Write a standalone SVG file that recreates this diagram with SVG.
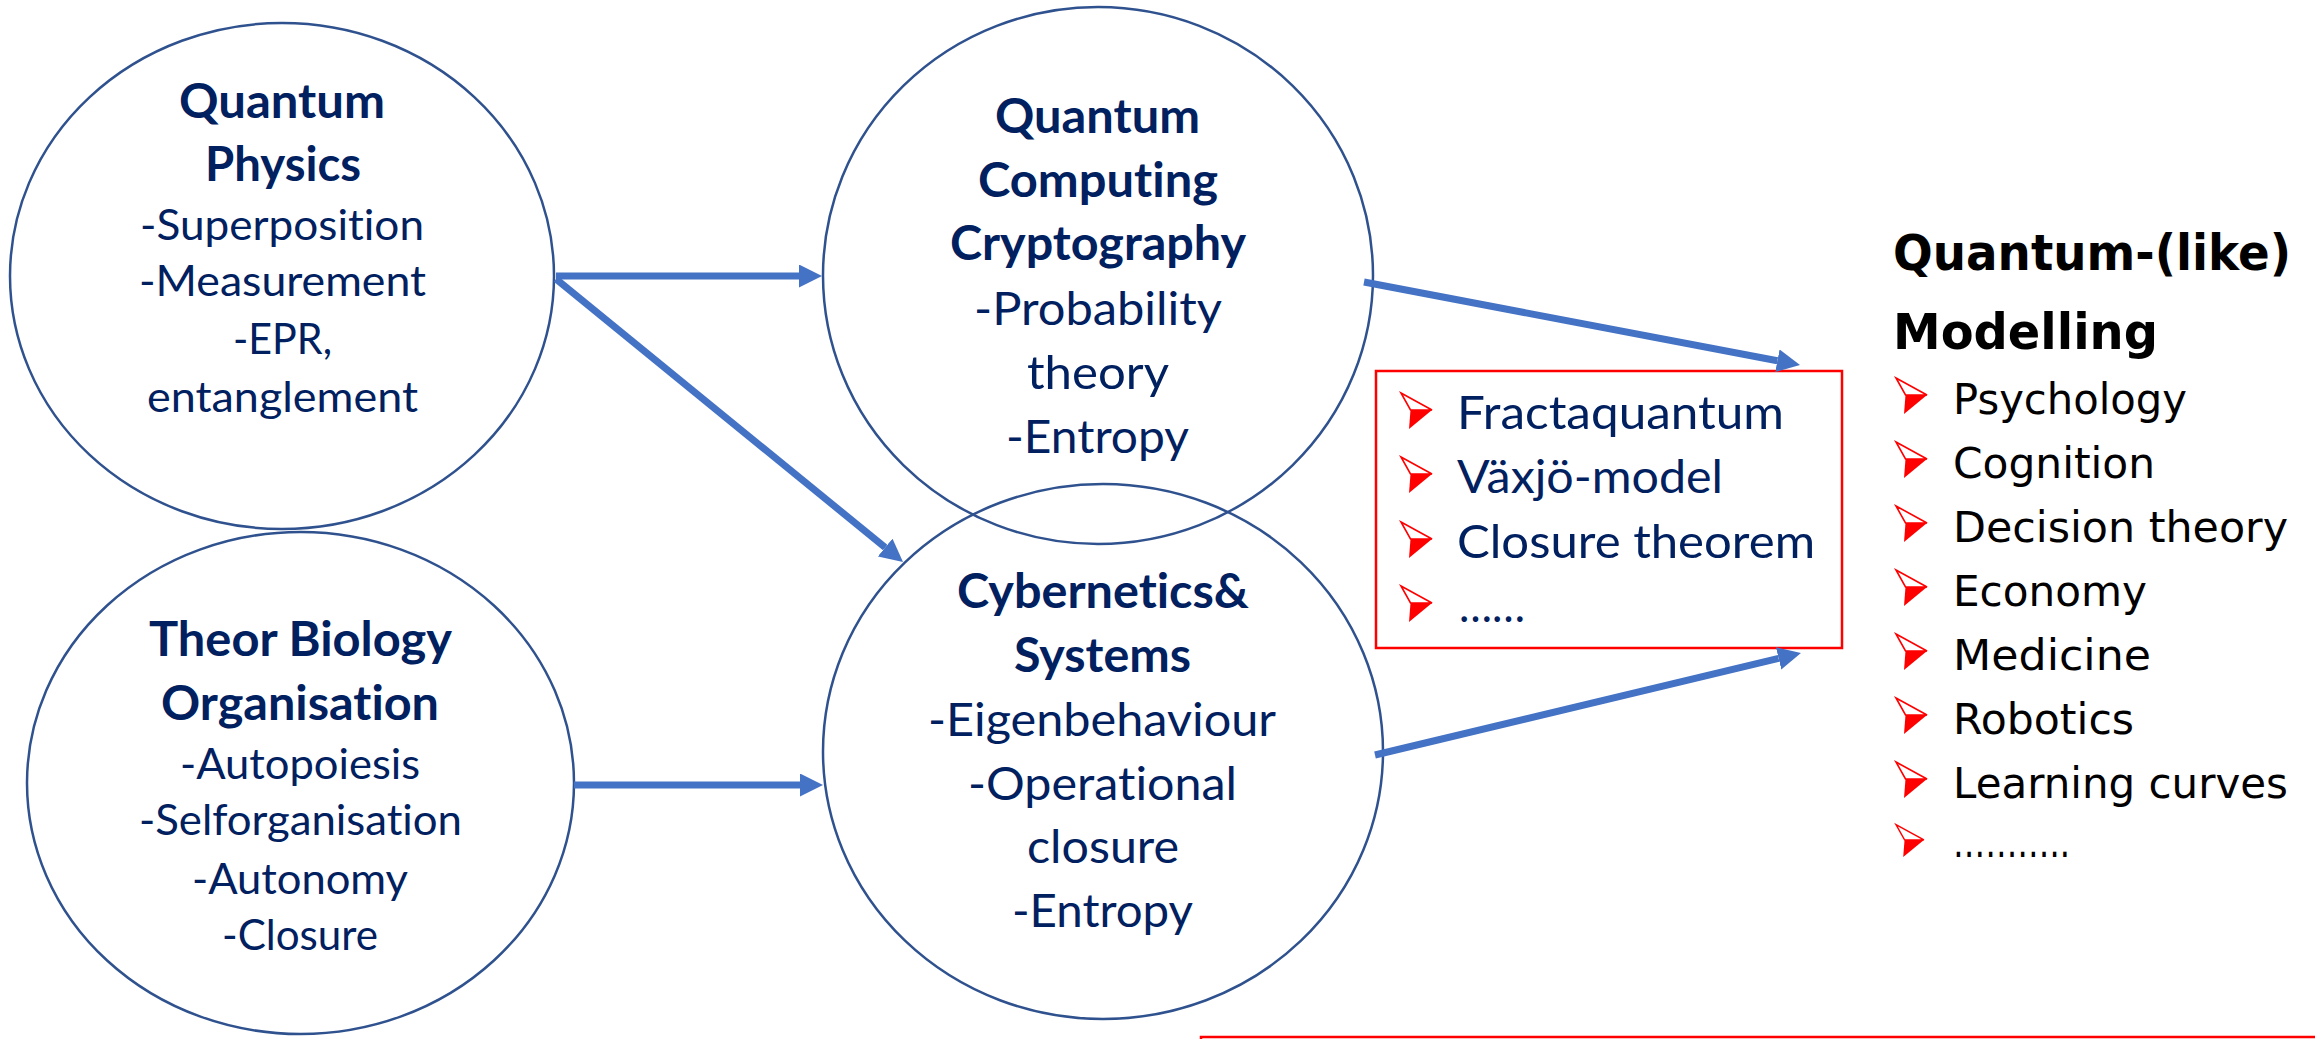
<svg xmlns="http://www.w3.org/2000/svg" xmlns:xlink="http://www.w3.org/1999/xlink" width="2315" height="1039" viewBox="0 0 2315 1039">
<style>
.shape{fill:none;stroke:#2F528F;stroke-width:2.5}
.t{font-family:Lato,"Open Sans","Liberation Sans",sans-serif;fill:#002060;font-size:43px;font-variant-ligatures:none;font-feature-settings:"liga" 0,"clig" 0,"dlig" 0}
.tc{font-size:47px}
.b{font-weight:bold;font-size:47px}
.conn line{stroke:#4472C4;stroke-width:7;marker-end:url(#ah)}
.box{fill:none;stroke:#FF0000;stroke-width:2.5}
.r{font-family:"DejaVu Sans","Liberation Sans",sans-serif;fill:#000;font-size:43px;font-variant-ligatures:none}
.rh{font-weight:bold;font-size:49px}
.bx{font-size:47px}
</style>
<defs>
<marker id="ah" markerUnits="userSpaceOnUse" markerWidth="24" markerHeight="24" refX="0" refY="11.5" orient="auto">
<path d="M0,0 L23,11.5 L0,23 Z" fill="#4472C4"/>
</marker>
<g id="bul">
<polygon points="0,-36 31,-19 9.5,-19" fill="#fff" stroke="#FF0000" stroke-width="1.6" stroke-linejoin="miter"/>
<polygon points="9.5,-19 31,-19 8,0" fill="#FF0000"/>
</g>
</defs>
<rect width="2315" height="1039" fill="#fff"/>

<g id="node-quantum-physics">
<ellipse class="shape" cx="282" cy="276" rx="272" ry="253"/>
<text class="t b" x="179" y="118" textLength="206" lengthAdjust="spacingAndGlyphs">Quantum</text>
<text class="t b" x="205" y="181" textLength="156" lengthAdjust="spacingAndGlyphs">Physics</text>
<text class="t" x="140" y="240" textLength="284" lengthAdjust="spacingAndGlyphs">-Superposition</text>
<text class="t" x="139" y="296" textLength="287" lengthAdjust="spacingAndGlyphs">-Measurement</text>
<text class="t" x="233" y="354" textLength="99" lengthAdjust="spacingAndGlyphs">-EPR,</text>
<text class="t" x="147" y="412" textLength="271" lengthAdjust="spacingAndGlyphs">entanglement</text>
</g>

<g id="node-theor-biology">
<ellipse class="shape" cx="300.5" cy="783" rx="273.5" ry="251"/>
<text class="t b" x="149" y="656" textLength="303" lengthAdjust="spacingAndGlyphs">Theor Biology</text>
<text class="t b" x="161" y="720" textLength="278" lengthAdjust="spacingAndGlyphs">Organisation</text>
<text class="t" x="180" y="779" textLength="240" lengthAdjust="spacingAndGlyphs">-Autopoiesis</text>
<text class="t" x="139" y="835" textLength="323" lengthAdjust="spacingAndGlyphs">-Selforganisation</text>
<text class="t" x="192" y="894" textLength="216" lengthAdjust="spacingAndGlyphs">-Autonomy</text>
<text class="t" x="222" y="950" textLength="156" lengthAdjust="spacingAndGlyphs">-Closure</text>
</g>

<g id="node-quantum-computing">
<ellipse class="shape" cx="1098" cy="275.5" rx="275" ry="268.5"/>
<text class="t b" x="995" y="133" textLength="205" lengthAdjust="spacingAndGlyphs">Quantum</text>
<text class="t b" x="978" y="197" textLength="240" lengthAdjust="spacingAndGlyphs">Computing</text>
<text class="t b" x="950" y="260" textLength="296" lengthAdjust="spacingAndGlyphs">Cryptography</text>
<text class="t tc" x="974" y="325" textLength="248" lengthAdjust="spacingAndGlyphs">-Probability</text>
<text class="t tc" x="1027" y="389" textLength="142" lengthAdjust="spacingAndGlyphs">theory</text>
<text class="t tc" x="1006" y="453" textLength="183" lengthAdjust="spacingAndGlyphs">-Entropy</text>
</g>

<g id="node-cybernetics">
<ellipse class="shape" cx="1103" cy="751.5" rx="280" ry="267.5"/>
<text class="t b" x="957" y="608" textLength="292" lengthAdjust="spacingAndGlyphs">Cybernetics&amp;</text>
<text class="t b" x="1014" y="672" textLength="177" lengthAdjust="spacingAndGlyphs">Systems</text>
<text class="t tc" x="928" y="736" textLength="348" lengthAdjust="spacingAndGlyphs">-Eigenbehaviour</text>
<text class="t tc" x="968" y="800" textLength="269" lengthAdjust="spacingAndGlyphs">-Operational</text>
<text class="t tc" x="1027" y="863" textLength="152" lengthAdjust="spacingAndGlyphs">closure</text>
<text class="t tc" x="1012" y="927" textLength="181" lengthAdjust="spacingAndGlyphs">-Entropy</text>
</g>

<g id="node-approaches">
<rect class="box" x="1376" y="371" width="466" height="277"/>
<use xlink:href="#bul" x="1401" y="429"/>
<use xlink:href="#bul" x="1401" y="493"/>
<use xlink:href="#bul" x="1401" y="558"/>
<use xlink:href="#bul" x="1401" y="622"/>
<text class="t bx" x="1457" y="429" textLength="327" lengthAdjust="spacingAndGlyphs">Fractaquantum</text>
<text class="t bx" x="1457" y="493" textLength="266" lengthAdjust="spacingAndGlyphs">Växjö-model</text>
<text class="t bx" x="1457" y="558" textLength="358" lengthAdjust="spacingAndGlyphs">Closure theorem</text>
<text class="t bx" x="1459" y="622" textLength="66" lengthAdjust="spacingAndGlyphs">……</text>
</g>

<g id="node-modelling">
<text class="r rh" x="1893" y="270" textLength="398" lengthAdjust="spacingAndGlyphs">Quantum-(like)</text>
<text class="r rh" x="1893" y="349" textLength="265" lengthAdjust="spacingAndGlyphs">Modelling</text>
<use xlink:href="#bul" x="1896" y="414"/>
<use xlink:href="#bul" x="1896" y="478"/>
<use xlink:href="#bul" x="1896" y="542"/>
<use xlink:href="#bul" x="1896" y="606"/>
<use xlink:href="#bul" x="1896" y="670"/>
<use xlink:href="#bul" x="1896" y="734"/>
<use xlink:href="#bul" x="1896" y="798"/>
<use xlink:href="#bul" transform="translate(1896 857) scale(0.9)"/>
<text class="r" x="1953" y="414" textLength="234" lengthAdjust="spacingAndGlyphs">Psychology</text>
<text class="r" x="1953" y="478" textLength="202" lengthAdjust="spacingAndGlyphs">Cognition</text>
<text class="r" x="1953" y="542" textLength="335" lengthAdjust="spacingAndGlyphs">Decision theory</text>
<text class="r" x="1953" y="606" textLength="194" lengthAdjust="spacingAndGlyphs">Economy</text>
<text class="r" x="1953" y="670" textLength="198" lengthAdjust="spacingAndGlyphs">Medicine</text>
<text class="r" x="1953" y="734" textLength="181" lengthAdjust="spacingAndGlyphs">Robotics</text>
<text class="r" x="1953" y="798" textLength="335" lengthAdjust="spacingAndGlyphs">Learning curves</text>
<text class="r" x="1953" y="857" textLength="117" lengthAdjust="spacingAndGlyphs">………..</text>
</g>

<g id="node-bottom-box">
<rect class="box" x="1201" y="1037" width="1200" height="60"/>
</g>

<g id="connectors" class="conn">
<line x1="556" y1="276" x2="799" y2="276"/>
<line x1="556" y1="279" x2="885.2" y2="547.5"/>
<line x1="574" y1="785" x2="800" y2="785"/>
<line x1="1364" y1="282" x2="1777.4" y2="360.7"/>
<line x1="1375" y1="755" x2="1778.6" y2="658.4"/>
</g>
</svg>
